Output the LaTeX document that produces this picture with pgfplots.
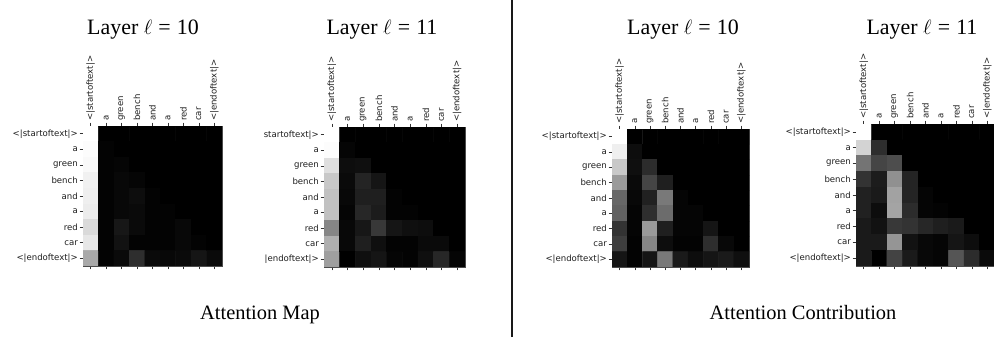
\documentclass[border=0pt]{standalone}
\usepackage{pgfplots}
\pgfplotsset{compat=1.18}
\usepackage{fontspec}
\setmainfont{Liberation Serif}
\newfontfamily\tickfont{DejaVu Sans}
\pgfplotsset{
  hm/.style={
    scale only axis,
    y dir=reverse,
    xmin=-0.5, xmax=8.5, ymin=-0.5, ymax=8.5,
    enlargelimits=false,
    xtick={0,...,8}, ytick={0,...,8},
    xticklabels={<|startoftext|>,a,green,bench,and,a,red,car,<|endoftext|>},
    yticklabels={<|startoftext|>,a,green,bench,and,a,red,car,<|endoftext|>},
    xticklabel pos=upper,
    xtick pos=both, ytick pos=left,
    tick align=outside,
    major tick length=3.5bp,
    tick style={black!80, line width=0.6bp},
    xticklabel style={rotate=90, anchor=west, font=\tickfont\fontsize{8.6}{9}\selectfont, text=black!88, inner sep=1.5bp},
    yticklabel style={font=\tickfont\fontsize{8.6}{9}\selectfont, text=black!88, inner sep=1.5bp},
    axis line style={black!70, line width=0.6bp},
    colormap={bw}{gray(0cm)=(0); gray(1cm)=(1)},
    point meta min=0, point meta max=1,
  },
}
\newcommand\ltitle[1]{Layer $\ell$\hspace{0.28em}=\hspace{0.28em}#1}
\begin{document}
\begin{tikzpicture}[x=1bp,y=1bp]
\useasboundingbox (0,0) rectangle (994,337);
\fill[white] (0,0) rectangle (994,337);

% ---------- Attention Map, layer 10
\begin{axis}[hm, at={(83bp,211bp)}, anchor=north west, width=139bp, height=140bp]
\addplot[matrix plot*, mesh/cols=9, point meta=explicit] coordinates {
(0,0)[1.00] (1,0)[0] (2,0)[0] (3,0)[0] (4,0)[0] (5,0)[0] (6,0)[0] (7,0)[0] (8,0)[0]
(0,1)[0.98] (1,1)[0.01] (2,1)[0] (3,1)[0] (4,1)[0] (5,1)[0] (6,1)[0] (7,1)[0] (8,1)[0]
(0,2)[0.97] (1,2)[0.01] (2,2)[0.02] (3,2)[0] (4,2)[0] (5,2)[0] (6,2)[0] (7,2)[0] (8,2)[0]
(0,3)[0.94] (1,3)[0.01] (2,3)[0.03] (3,3)[0.02] (4,3)[0] (5,3)[0] (6,3)[0] (7,3)[0] (8,3)[0]
(0,4)[0.93] (1,4)[0.01] (2,4)[0.03] (3,4)[0.05] (4,4)[0.01] (5,4)[0] (6,4)[0] (7,4)[0] (8,4)[0]
(0,5)[0.92] (1,5)[0.01] (2,5)[0.03] (3,5)[0.04] (4,5)[0.01] (5,5)[0.01] (6,5)[0] (7,5)[0] (8,5)[0]
(0,6)[0.85] (1,6)[0.01] (2,6)[0.09] (3,6)[0.04] (4,6)[0.01] (5,6)[0.01] (6,6)[0.03] (7,6)[0] (8,6)[0]
(0,7)[0.90] (1,7)[0.01] (2,7)[0.07] (3,7)[0.01] (4,7)[0.01] (5,7)[0.01] (6,7)[0.03] (7,7)[0.01] (8,7)[0]
(0,8)[0.66] (1,8)[0.01] (2,8)[0.04] (3,8)[0.18] (4,8)[0.04] (5,8)[0.03] (6,8)[0.04] (7,8)[0.08] (8,8)[0.04]
};
\end{axis}

% ---------- Attention Map, layer 11
\begin{axis}[hm, at={(324bp,210bp)}, anchor=north west, width=141bp, height=140bp,
  yticklabels={startoftext|>,a,green,bench,and,a,red,car,|endoftext|>}]
\addplot[matrix plot*, mesh/cols=9, point meta=explicit] coordinates {
(0,0)[1.00] (1,0)[0] (2,0)[0] (3,0)[0] (4,0)[0] (5,0)[0] (6,0)[0] (7,0)[0] (8,0)[0]
(0,1)[0.98] (1,1)[0.02] (2,1)[0] (3,1)[0] (4,1)[0] (5,1)[0] (6,1)[0] (7,1)[0] (8,1)[0]
(0,2)[0.87] (1,2)[0.05] (2,2)[0.06] (3,2)[0] (4,2)[0] (5,2)[0] (6,2)[0] (7,2)[0] (8,2)[0]
(0,3)[0.78] (1,3)[0.04] (2,3)[0.14] (3,3)[0.08] (4,3)[0] (5,3)[0] (6,3)[0] (7,3)[0] (8,3)[0]
(0,4)[0.75] (1,4)[0.03] (2,4)[0.12] (3,4)[0.12] (4,4)[0.01] (5,4)[0] (6,4)[0] (7,4)[0] (8,4)[0]
(0,5)[0.75] (1,5)[0.02] (2,5)[0.15] (3,5)[0.11] (4,5)[0.01] (5,5)[0.01] (6,5)[0] (7,5)[0] (8,5)[0]
(0,6)[0.52] (1,6)[0.03] (2,6)[0.09] (3,6)[0.22] (4,6)[0.08] (5,6)[0.06] (6,6)[0.05] (7,6)[0] (8,6)[0]
(0,7)[0.68] (1,7)[0.03] (2,7)[0.12] (3,7)[0.06] (4,7)[0.01] (5,7)[0.01] (6,7)[0.04] (7,7)[0.04] (8,7)[0]
(0,8)[0.62] (1,8)[0.00] (2,8)[0.06] (3,8)[0.08] (4,8)[0.02] (5,8)[0.01] (6,8)[0.06] (7,8)[0.15] (8,8)[0.02]
};
\end{axis}

% ---------- Attention Contribution, layer 10
\begin{axis}[hm, at={(612bp,208bp)}, anchor=north west, width=137bp, height=138bp]
\addplot[matrix plot*, mesh/cols=9, point meta=explicit] coordinates {
(0,0)[1.00] (1,0)[0] (2,0)[0] (3,0)[0] (4,0)[0] (5,0)[0] (6,0)[0] (7,0)[0] (8,0)[0]
(0,1)[0.93] (1,1)[0.05] (2,1)[0] (3,1)[0] (4,1)[0] (5,1)[0] (6,1)[0] (7,1)[0] (8,1)[0]
(0,2)[0.78] (1,2)[0.06] (2,2)[0.17] (3,2)[0] (4,2)[0] (5,2)[0] (6,2)[0] (7,2)[0] (8,2)[0]
(0,3)[0.60] (1,3)[0.04] (2,3)[0.27] (3,3)[0.12] (4,3)[0] (5,3)[0] (6,3)[0] (7,3)[0] (8,3)[0]
(0,4)[0.40] (1,4)[0.03] (2,4)[0.13] (3,4)[0.47] (4,4)[0.02] (5,4)[0] (6,4)[0] (7,4)[0] (8,4)[0]
(0,5)[0.38] (1,5)[0.02] (2,5)[0.18] (3,5)[0.42] (4,5)[0.02] (5,5)[0.02] (6,5)[0] (7,5)[0] (8,5)[0]
(0,6)[0.20] (1,6)[0.02] (2,6)[0.60] (3,6)[0.12] (4,6)[0.02] (5,6)[0.02] (6,6)[0.08] (7,6)[0] (8,6)[0]
(0,7)[0.24] (1,7)[0.01] (2,7)[0.52] (3,7)[0.05] (4,7)[0.01] (5,7)[0.01] (6,7)[0.18] (7,7)[0.03] (8,7)[0]
(0,8)[0.08] (1,8)[0.01] (2,8)[0.08] (3,8)[0.47] (4,8)[0.10] (5,8)[0.05] (6,8)[0.08] (7,8)[0.10] (8,8)[0.06]
};
\end{axis}

% ---------- Attention Contribution, layer 11
\begin{axis}[hm, at={(856bp,213bp)}, anchor=north west, width=139bp, height=142bp]
\addplot[matrix plot*, mesh/cols=9, point meta=explicit] coordinates {
(0,0)[1.00] (1,0)[0] (2,0)[0] (3,0)[0] (4,0)[0] (5,0)[0] (6,0)[0] (7,0)[0] (8,0)[0]
(0,1)[0.82] (1,1)[0.18] (2,1)[0] (3,1)[0] (4,1)[0] (5,1)[0] (6,1)[0] (7,1)[0] (8,1)[0]
(0,2)[0.45] (1,2)[0.27] (2,2)[0.30] (3,2)[0] (4,2)[0] (5,2)[0] (6,2)[0] (7,2)[0] (8,2)[0]
(0,3)[0.20] (1,3)[0.11] (2,3)[0.56] (3,3)[0.14] (4,3)[0] (5,3)[0] (6,3)[0] (7,3)[0] (8,3)[0]
(0,4)[0.13] (1,4)[0.10] (2,4)[0.63] (3,4)[0.14] (4,4)[0.02] (5,4)[0] (6,4)[0] (7,4)[0] (8,4)[0]
(0,5)[0.13] (1,5)[0.05] (2,5)[0.64] (3,5)[0.17] (4,5)[0.02] (5,5)[0.01] (6,5)[0] (7,5)[0] (8,5)[0]
(0,6)[0.10] (1,6)[0.07] (2,6)[0.22] (3,6)[0.20] (4,6)[0.15] (5,6)[0.12] (6,6)[0.10] (7,6)[0] (8,6)[0]
(0,7)[0.10] (1,7)[0.10] (2,7)[0.58] (3,7)[0.07] (4,7)[0.03] (5,7)[0.02] (6,7)[0.08] (7,7)[0.05] (8,7)[0]
(0,8)[0.10] (1,8)[0.00] (2,8)[0.26] (3,8)[0.10] (4,8)[0.03] (5,8)[0.02] (6,8)[0.33] (7,8)[0.17] (8,8)[0.04]
};
\end{axis}

% titles
\node[anchor=base, font=\fontsize{22}{24}\selectfont, inner sep=0] at (143,303) {\ltitle{10}};
\node[anchor=base, font=\fontsize{22}{24}\selectfont, inner sep=0] at (382,303) {\ltitle{11}};
\node[anchor=base, font=\fontsize{22}{24}\selectfont, inner sep=0] at (683,303) {\ltitle{10}};
\node[anchor=base, font=\fontsize{22}{24}\selectfont, inner sep=0] at (922,303) {\ltitle{11}};
% bottom labels
\node[anchor=base, font=\fontsize{20.5}{24}\selectfont, inner sep=0] at (260,18) {Attention Map};
\node[anchor=base, font=\fontsize{20.5}{24}\selectfont, inner sep=0] at (803,18) {Attention Contribution};
% separator
\draw[line width=2bp, black!90] (512,0) -- (512,337);
\end{tikzpicture}
\end{document}
